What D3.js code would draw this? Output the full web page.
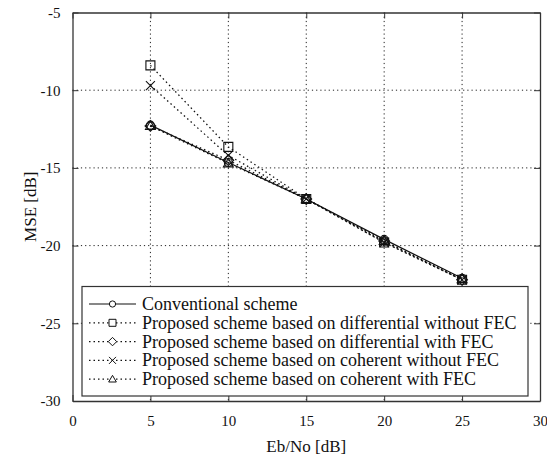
<!DOCTYPE html>
<html>
<head>
<meta charset="utf-8">
<script src="https://cdn.jsdelivr.net/npm/d3@7"></script>
<style>
  body { margin: 0; background: #fff; }
  svg text { font-family: "Liberation Serif", "Times New Roman", serif; fill: #111; }
</style>
</head>
<body>
<div id="chart"></div>
<script>
// x values
const ebno = [5, 10, 15, 20, 25];

// series values (MSE in dB)
const conventional = [-12.25, -14.65, -17.0, -19.6, -22.1];
const diffNoFec = [-8.4, -13.65, -17.0, -19.8, -22.2];
const diffFec = [-12.3, -14.5, -17.0, -19.7, -22.2];
const cohNoFec = [-9.7, -14.2, -17.0, -19.8, -22.2];
const cohFec = [-12.3, -14.7, -17.0, -19.7, -22.15];

const seriesNames = [
    "Conventional scheme",
    "Proposed scheme based on differential without FEC",
    "Proposed scheme based on differential with FEC",
    "Proposed scheme based on coherent without FEC",
    "Proposed scheme based on coherent with FEC"
];

const xTicks = [0, 5, 10, 15, 20, 25, 30];
const yTicks = [-30, -25, -20, -15, -10, -5];

const series = [
    {name: seriesNames[0], values: conventional, marker: "circle", dash: null},
    {name: seriesNames[1], values: diffNoFec, marker: "square", dash: "1.5,3"},
    {name: seriesNames[2], values: diffFec, marker: "diamond", dash: "1.5,3"},
    {name: seriesNames[3], values: cohNoFec, marker: "cross", dash: "1.5,3"},
    {name: seriesNames[4], values: cohFec, marker: "triangle", dash: "1.5,3"}
];

const serif = '"Liberation Serif", "Times New Roman", serif';

const svgWidth = 547, svgHeight = 463;
const margin = {top: 12.5, right: 7, bottom: 62, left: 72.5},
      width = svgWidth - margin.left - margin.right,
      height = svgHeight - margin.top - margin.bottom;

const svg = d3.select("#chart").append("svg")
    .attr("width", svgWidth)
    .attr("height", svgHeight);

const g = svg.append("g")
    .attr("transform", "translate(" + margin.left + "," + margin.top + ")");

const x = d3.scaleLinear().domain([0, 30]).range([0, width]);
const y = d3.scaleLinear().domain([-30, -5]).range([height, 0]);

// grid
g.append("g")
    .selectAll("line")
    .data(xTicks.slice(1, -1))
    .enter().append("line")
    .attr("x1", d => x(d)).attr("x2", d => x(d))
    .attr("y1", 0).attr("y2", height)
    .attr("stroke", "#222").attr("stroke-width", 1)
    .attr("stroke-dasharray", "1.2,3");

g.append("g")
    .selectAll("line")
    .data(yTicks.slice(1, -1))
    .enter().append("line")
    .attr("y1", d => y(d)).attr("y2", d => y(d))
    .attr("x1", 0).attr("x2", width)
    .attr("stroke", "#222").attr("stroke-width", 1)
    .attr("stroke-dasharray", "1.2,3");

// axes
const xAxis = g.append("g")
    .attr("transform", "translate(0," + height + ")")
    .call(d3.axisBottom(x).tickValues(xTicks).tickSizeInner(-6).tickSizeOuter(0).tickPadding(14));
const yAxis = g.append("g")
    .call(d3.axisLeft(y).tickValues(yTicks).tickSizeInner(-6).tickSizeOuter(0).tickPadding(12));
g.append("g")
    .attr("transform", "translate(" + width + ",0)")
    .call(d3.axisRight(y).tickValues(yTicks).tickSizeInner(-6).tickSizeOuter(0).tickFormat(""));
g.append("g")
    .call(d3.axisTop(x).tickValues(xTicks).tickSizeInner(-6).tickSizeOuter(0).tickFormat(""));

g.selectAll(".domain").attr("stroke", "#333").attr("stroke-width", 1.3);
g.selectAll(".tick line").attr("stroke", "#333");
g.selectAll("g").attr("font-family", null);
xAxis.selectAll("text").style("font-size", "15px").style("font-family", serif).attr("fill", "#111");
yAxis.selectAll("text").style("font-size", "15px").style("font-family", serif).attr("fill", "#111")
    .text(d => d < 0 ? "-" + Math.abs(d) : d);

// axis labels
svg.append("text")
    .attr("x", margin.left + width / 2)
    .attr("y", 452)
    .attr("text-anchor", "middle")
    .style("font-size", "17px")
    .style("font-family", serif)
    .text("Eb/No [dB]");

svg.append("text")
    .attr("transform", "translate(36," + (margin.top + height / 2) + ") rotate(-90)")
    .attr("text-anchor", "middle")
    .style("font-size", "17px")
    .style("font-family", serif)
    .text("MSE [dB]");

// markers
const markerPath = (type, s) => {
    if (type === "circle") return d3.symbol(d3.symbolCircle, s * s * 0.62)();
    if (type === "square") return `M${-s/2},${-s/2}h${s}v${s}h${-s}Z`;
    if (type === "diamond") return `M0,${-s*0.6}L${s*0.6},0L0,${s*0.6}L${-s*0.6},0Z`;
    if (type === "cross") return `M${-s/2},${-s/2}L${s/2},${s/2}M${-s/2},${s/2}L${s/2},${-s/2}`;
    if (type === "triangle") return `M0,${-s*0.55}L${s*0.55},${s*0.4}L${-s*0.55},${s*0.4}Z`;
};

const line = d3.line()
    .x((d, i) => x(ebno[i]))
    .y(d => y(d));

const data = g.append("g");

series.forEach(s => {
    data.append("path")
        .attr("d", line(s.values))
        .attr("fill", "none")
        .attr("stroke", "#111")
        .attr("stroke-width", s.dash ? 1.3 : 1.2)
        .attr("stroke-dasharray", s.dash);
});

series.forEach(s => {
    data.append("g")
        .selectAll("path")
        .data(s.values)
        .enter().append("path")
        .attr("transform", (d, i) => "translate(" + x(ebno[i]) + "," + y(d) + ")")
        .attr("d", markerPath(s.marker, 9))
        .attr("fill", "none")
        .attr("stroke", "#111")
        .attr("stroke-width", 1.1);
});

// legend
const legend = svg.append("g");
legend.append("rect")
    .attr("x", 82).attr("y", 286.5)
    .attr("width", 446).attr("height", 109.5)
    .attr("fill", "#fff")
    .attr("stroke", "#333").attr("stroke-width", 1.2);

series.forEach((s, i) => {
    const ly = 304 + i * 18.8;
    legend.append("line")
        .attr("x1", 89).attr("x2", 136)
        .attr("y1", ly).attr("y2", ly)
        .attr("stroke", "#111")
        .attr("stroke-width", 1.2)
        .attr("stroke-dasharray", s.dash);
    legend.append("path")
        .attr("transform", "translate(112.5," + ly + ")")
        .attr("d", markerPath(s.marker, 7))
        .attr("fill", "#fff")
        .attr("stroke", "#111")
        .attr("stroke-width", 1);
    legend.append("text")
        .attr("x", 142)
        .attr("y", ly + 6)
        .style("font-size", "18px")
        .style("font-family", serif)
        .text(s.name);
});
</script>
</body>
</html>
